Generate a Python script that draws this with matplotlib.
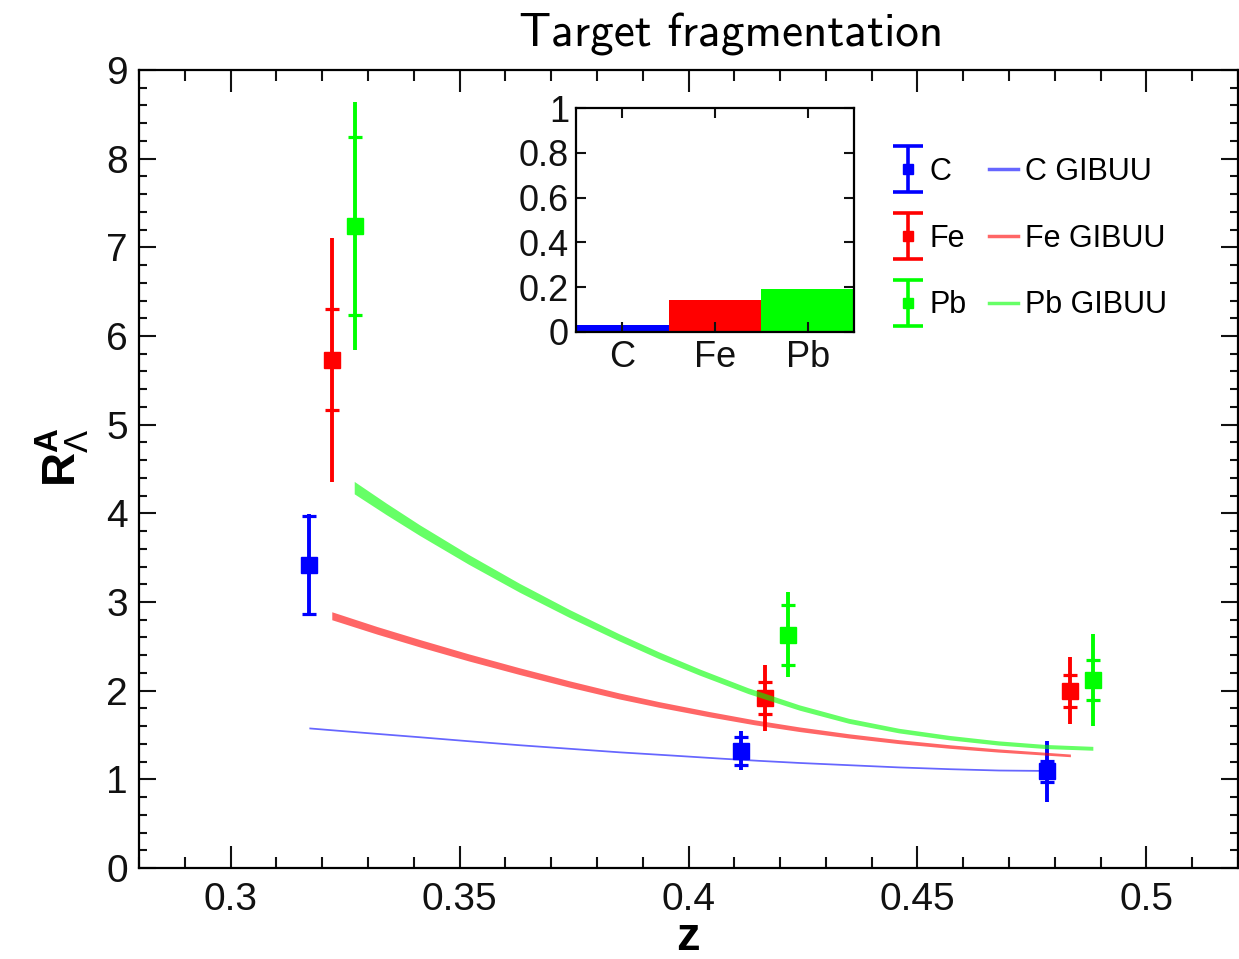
import numpy as np
import matplotlib
matplotlib.use("Agg")
import matplotlib.pyplot as plt
from matplotlib.ticker import MultipleLocator
from matplotlib.lines import Line2D
from matplotlib.legend_handler import HandlerErrorbar

plt.rcParams['font.family'] = ['Liberation Sans', 'DejaVu Sans']
plt.rcParams['mathtext.fontset'] = 'custom'
plt.rcParams['mathtext.rm'] = 'Liberation Sans'
plt.rcParams['mathtext.bf'] = 'Liberation Sans:bold'
plt.rcParams['mathtext.it'] = 'Liberation Sans:italic'

# ---------------- data ----------------
targets = ['C', 'Fe', 'Pb']
colors = ['#0000ff', '#ff0000', '#00ff00']

z_C = [0.3171, 0.4115, 0.4783]
R_C = [3.42, 1.32, 1.09]
stat_C = [0.55, 0.16, 0.12]
tot_C = [0.57, 0.22, 0.34]

z_Fe = [0.3221, 0.4167, 0.4834]
R_Fe = [5.73, 1.92, 2.00]
stat_Fe = [0.57, 0.18, 0.18]
tot_Fe = [1.38, 0.37, 0.38]

z_Pb = [0.3271, 0.4218, 0.4883]
R_Pb = [7.24, 2.63, 2.12]
stat_Pb = [1.00, 0.34, 0.23]
tot_Pb = [1.40, 0.48, 0.52]

# GiBUU model bands
gz_C = [0.3171, 0.3290, 0.3413, 0.3520, 0.3631, 0.3740, 0.3849, 0.3960, 0.4067,
        0.4150, 0.4242, 0.4350, 0.4459, 0.4570, 0.4677, 0.4784]
gC_lo = [1.570, 1.520, 1.470, 1.425, 1.380, 1.340, 1.300, 1.265, 1.230,
         1.205, 1.180, 1.155, 1.130, 1.110, 1.095, 1.090]
gC_hi = [1.590, 1.540, 1.490, 1.445, 1.400, 1.360, 1.320, 1.285, 1.250,
         1.225, 1.200, 1.175, 1.150, 1.130, 1.115, 1.110]

gz_Fe = [0.3221, 0.3320, 0.3413, 0.3520, 0.3631, 0.3740, 0.3849, 0.3935, 0.4045,
         0.4142, 0.4242, 0.4350, 0.4459, 0.4570, 0.4677, 0.4834]
gFe_lo = [2.800, 2.637, 2.493, 2.335, 2.182, 2.039, 1.906, 1.813, 1.705,
          1.617, 1.539, 1.466, 1.403, 1.350, 1.307, 1.255]
gFe_hi = [2.890, 2.723, 2.577, 2.415, 2.258, 2.111, 1.974, 1.877, 1.765,
          1.673, 1.591, 1.514, 1.447, 1.390, 1.343, 1.285]

gz_Pb = [0.3270, 0.3340, 0.3413, 0.3520, 0.3631, 0.3740, 0.3849, 0.3935, 0.4024,
         0.4130, 0.4242, 0.4350, 0.4459, 0.4570, 0.4677, 0.4780, 0.4883]
gPb_lo = [4.220, 3.985, 3.750, 3.425, 3.110, 2.825, 2.560, 2.362, 2.175,
          1.967, 1.780, 1.632, 1.524, 1.445, 1.386, 1.347, 1.328]
gPb_hi = [4.360, 4.115, 3.870, 3.535, 3.210, 2.915, 2.640, 2.438, 2.245,
          2.033, 1.840, 1.688, 1.576, 1.495, 1.434, 1.393, 1.372]

# inset: target fragmentation fraction
inset_vals = [0.03, 0.14, 0.19]

x_ticks = [0.3, 0.35, 0.4, 0.45, 0.5]
x_ticklabels = ['0.3', '0.35', '0.4', '0.45', '0.5']
y_ticks = list(range(10))
inset_yticks = [0, 0.2, 0.4, 0.6, 0.8, 1.0]
inset_yticklabels = ['0', '0.2', '0.4', '0.6', '0.8', '1']

# ---------------- figure ----------------
W, H = 1239, 959
fig = plt.figure(figsize=(W / 100, H / 100), dpi=100)
ax = fig.add_axes([139 / W, 91 / H, 1099 / W, 798 / H])

data = [(z_C, R_C, stat_C, tot_C), (z_Fe, R_Fe, stat_Fe, tot_Fe), (z_Pb, R_Pb, stat_Pb, tot_Pb)]
for (z, R, st, tt), c in zip(data, colors):
    ax.errorbar(z, R, yerr=tt, fmt='none', ecolor=c, elinewidth=2.8, capsize=0, zorder=3)
    ax.errorbar(z, R, yerr=st, fmt='none', ecolor=c, elinewidth=0, capsize=5.0,
                capthick=2.3, zorder=3)
    ax.plot(z, R, 's', color=c, ms=12, mec=c, zorder=4)

bands = [(gz_C, gC_lo, gC_hi), (gz_Fe, gFe_lo, gFe_hi), (gz_Pb, gPb_lo, gPb_hi)]
for (gz, lo, hi), c in zip(bands, colors):
    ax.fill_between(gz, lo, hi, color=c, alpha=0.6, lw=0, zorder=5)

ax.set_xlim(0.28, 0.52)
ax.set_ylim(0, 9)
ax.set_xticks(x_ticks)
ax.set_xticklabels(x_ticklabels)
ax.set_yticks(y_ticks)
ax.xaxis.set_minor_locator(MultipleLocator(0.01))
ax.yaxis.set_minor_locator(MultipleLocator(0.2))
ax.tick_params(axis='both', which='both', direction='in', top=True, right=True,
               labelsize=28, width=1.5, colors='#111111')
ax.tick_params(axis='x', which='major', length=16, pad=10)
ax.tick_params(axis='x', which='minor', length=8)
ax.tick_params(axis='y', which='major', length=12, pad=8)
ax.tick_params(axis='y', which='minor', length=6)
for s in ax.spines.values():
    s.set_linewidth(1.6)

ax.set_xlabel('z', fontweight='bold', fontsize=34)
ax.xaxis.label.set_va('baseline')
ax.xaxis.set_label_coords(0.4995, -0.103)
ax.set_ylabel(r'$\mathbf{R}^{\mathbf{A}}_{\Lambda}$', fontsize=34)
ax.yaxis.label.set_va('center')
ax.yaxis.set_label_coords(-0.070, 0.515)

# legend
handles = []
for c, t in zip(colors, targets):
    h = ax.errorbar([np.nan], [np.nan], yerr=[1.0], fmt='s', color=c, ms=7, elinewidth=2.6,
                    capsize=11, capthick=2.6, label=t)
    handles.append(h)
for c, t in zip(colors, targets):
    handles.append(Line2D([], [], color=c, alpha=0.6, lw=2.5, label=t + ' GIBUU'))
labels = targets + [t + ' GIBUU' for t in targets]
hm = {h: HandlerErrorbar(xerr_size=0.75) for h in handles[:3]}
ax.legend(handles, labels, ncol=2, loc='upper left', bbox_to_anchor=(893 / W, 1 - 157 / H),
          bbox_transform=fig.transFigure, frameon=False, fontsize=22, handlelength=0.95,
          handletextpad=0.25, columnspacing=0.72, labelspacing=1.2, borderpad=0,
          borderaxespad=0, numpoints=1, handler_map=hm)

# inset
ins = fig.add_axes([576 / W, (H - 331.7) / H, 278 / W, 223.4 / H])
ins.bar(range(3), inset_vals, width=1.0, color=colors, lw=0)
ins.set_xlim(-0.5, 2.5)
ins.set_ylim(0, 1)
ins.set_xticks(range(3))
ins.set_xticklabels(targets)
ins.set_yticks(inset_yticks)
ins.set_yticklabels(inset_yticklabels)
ins.tick_params(axis='both', direction='in', top=True, right=True, labelsize=26,
                width=1.5, length=7, colors='#111111')
ins.tick_params(axis='y', pad=5)
ins.tick_params(axis='x', pad=6)
for s in ins.spines.values():
    s.set_linewidth(1.6)

fig.text(731 / W, 1 - 47 / H, 'Target fragmentation', family='cmss10', fontsize=34,
         ha='center', va='baseline')

fig.savefig('out.png', dpi=100)
